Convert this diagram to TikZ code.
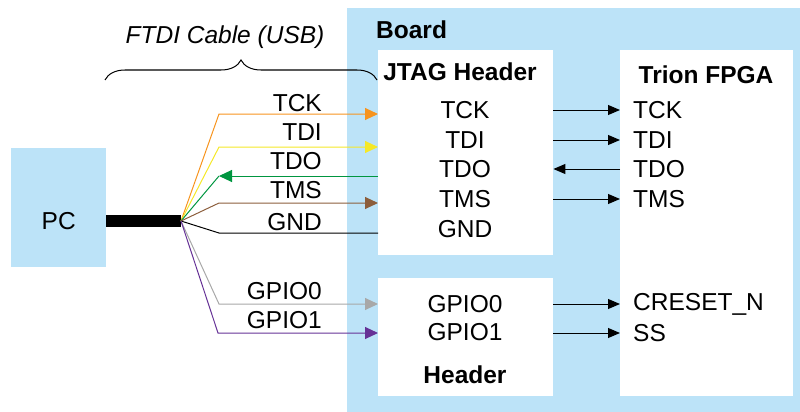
\documentclass[tikz,border=0pt]{standalone}
\usepackage{fontspec}
\setmainfont{Liberation Sans}
\usetikzlibrary{arrows.meta,decorations.pathreplacing}

\definecolor{boardblue}{RGB}{188,227,248}
\definecolor{wireorange}{RGB}{247,148,30}
\definecolor{wireyellow}{RGB}{245,232,40}
\definecolor{wiregreen}{RGB}{0,150,64}
\definecolor{wirebrown}{RGB}{140,94,60}
\definecolor{wiregray}{RGB}{168,168,168}
\definecolor{wirepurple}{RGB}{102,50,150}

\begin{document}
\begin{tikzpicture}[x=1pt,y=-1pt,
    every node/.style={font=\fontsize{24.5}{28}\selectfont, inner sep=0pt},
    bluebox/.style={fill=boardblue, anchor=north west},
    whitebox/.style={fill=white, anchor=north west},
    title/.style={font=\fontsize{24.5}{28}\selectfont\bfseries},
    wire/.style={line width=1pt, -{Triangle[length=13pt,width=12pt]}},
    sig/.style={line width=1pt, -{Triangle[length=12pt,width=10pt]}}]
                        \useasboundingbox (0,0) rectangle (800,412);

                        % Nodes
                        \node[bluebox, minimum width=95, minimum height=119] (pc) at (11,148) {};
                        \node[bluebox, minimum width=453, minimum height=404] (board) at (347,8) {};
                        \node[title, anchor=west] (boardlabel) at (376,30) {Board};
                        \node[whitebox, minimum width=175, minimum height=205] (jtag) at (378,50) {};
                        \node[whitebox, minimum width=175, minimum height=118] (hdr) at (378,278) {};
                        \node[whitebox, minimum width=173, minimum height=346] (fpga) at (620,50) {};

                        \node[title] (jtagtitle) at (460,72) {JTAG Header};
                        \node[title] (hdrtitle) at (465,375) {Header};
                        \node[title] (fpgatitle) at (706,75) {Trion FPGA};

                        \node (jtck) at (465,110) {TCK};
                        \node (jtdi) at (465,140) {TDI};
                        \node (jtdo) at (465,169) {TDO};
                        \node (jtms) at (465,199) {TMS};
                        \node (jgnd) at (465,229) {GND};
                        \node (hgpio0) at (465,304) {GPIO0};
                        \node (hgpio1) at (465,332) {GPIO1};

                        \node[anchor=west] (ftck) at (633,110) {TCK};
                        \node[anchor=west] (ftdi) at (633,140) {TDI};
                        \node[anchor=west] (ftdo) at (633,169) {TDO};
                        \node[anchor=west] (ftms) at (633,199) {TMS};
                        \node[anchor=west] (fcreset) at (633,304) {CRESET\_N};
                        \node[anchor=west] (fss) at (633,333) {SS};

                        \node[anchor=east] (ltck) at (322,103) {TCK};
                        \node[anchor=east] (ltdi) at (322,132) {TDI};
                        \node[anchor=east] (ltdo) at (322,161) {TDO};
                        \node[anchor=east] (ltms) at (322,190) {TMS};
                        \node[anchor=east] (lgnd) at (322,222) {GND};
                        \node[anchor=east] (lgpio0) at (322,291) {GPIO0};
                        \node[anchor=east] (lgpio1) at (322,320) {GPIO1};

                        \node[font=\fontsize{24.5}{28}\selectfont\itshape] (cablelabel) at (225,37) {FTDI Cable (USB)};

                        \coordinate (cab) at (181,221);
                        \coordinate (bl) at (105,80);
                        \coordinate (br) at (377,80);
                        \node (pclabel) at (pc.center |- cab) {PC};

                        % Edges
                        \draw[line width=12pt] (pc.east |- cab) -- (cab);
                        \draw[line width=1pt, decorate, decoration={brace, amplitude=20pt}] (bl) -- (br);

                        \draw[wire, wireorange] (cab) -- (219,114) -- (jtag.west |- 0,114);
                        \draw[wire, wireyellow] (cab) -- (219,147) -- (jtag.west |- 0,147);
                        \draw[line width=1pt, wiregreen] (cab) -- (219,176);
                        \draw[wire, wiregreen] (jtag.west |- 0,176) -- (219,176);
                        \draw[wire, wirebrown] (cab) -- (219,203) -- (jtag.west |- 0,203);
                        \draw[line width=1pt] (cab) -- (219,233) -- (jtag.west |- 0,233);
                        \draw[wire, wiregray] (cab) -- (219,304) -- (hdr.west |- 0,304);
                        \draw[wire, wirepurple] (cab) -- (218,333) -- (hdr.west |- 0,333);

                        \draw[sig] (jtag.east |- jtck) -- (fpga.west |- jtck);
                        \draw[sig] (jtag.east |- jtdi) -- (fpga.west |- jtdi);
                        \draw[sig] (fpga.west |- jtdo) -- (jtag.east |- jtdo);
                        \draw[sig] (jtag.east |- jtms) -- (fpga.west |- jtms);
                        \draw[sig] (hdr.east |- hgpio0) -- (fpga.west |- hgpio0);
                        \draw[sig] (hdr.east |- fss) -- (fpga.west |- fss);
                    \end{tikzpicture}
\end{document}
